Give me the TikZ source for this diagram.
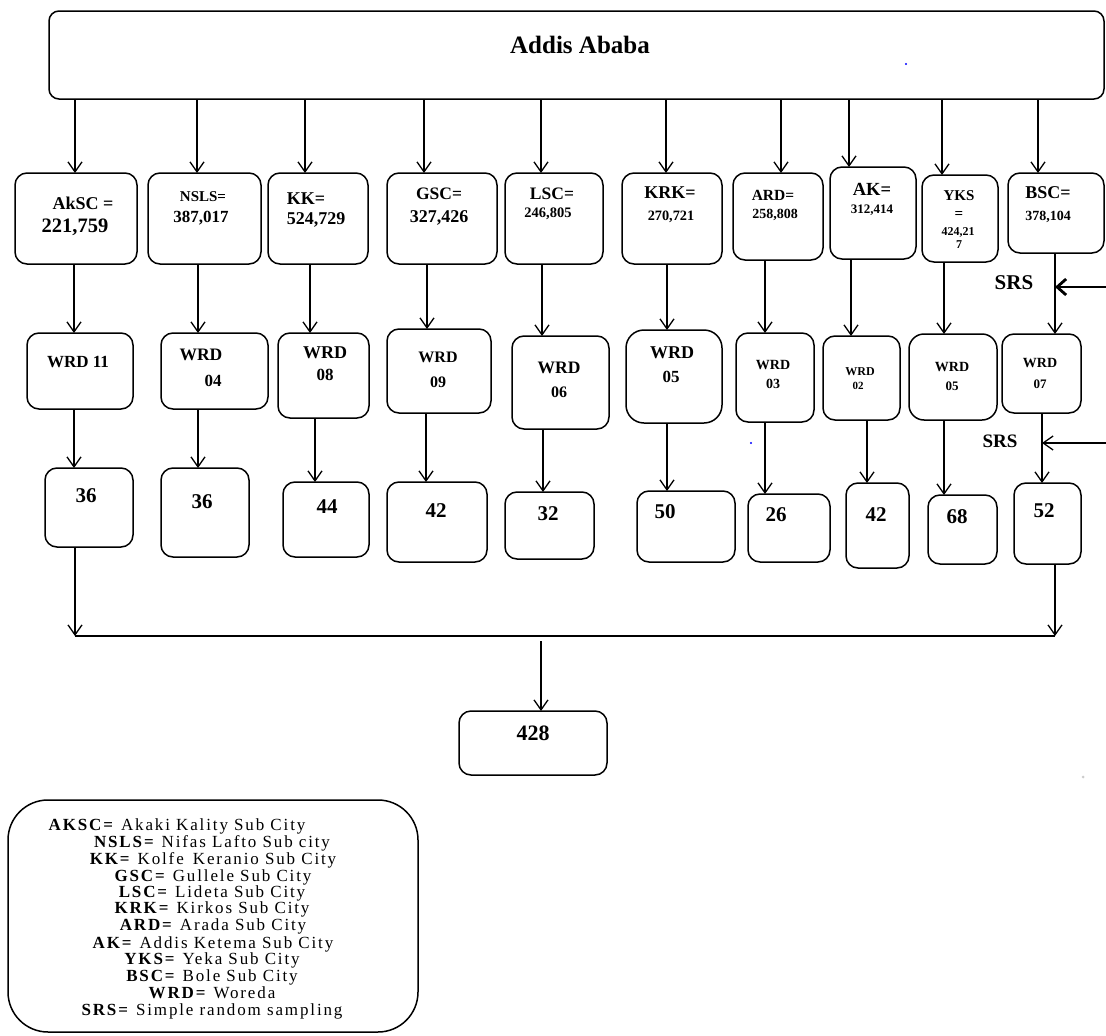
\documentclass[tikz,border=0pt]{standalone}
\usepackage{fontspec}
\setmainfont{Liberation Serif}
\newfontfamily\legfont[LetterSpace=11]{Liberation Serif}
\usetikzlibrary{arrows.meta}
\newcommand\myfs[1]{\fontsize{#1}{#1}\selectfont\bfseries}
\begin{document}
\begin{tikzpicture}[x=1pt,y=-1pt,
  box/.style={draw, line width=1.5pt, rounded corners=12pt, inner sep=0pt, outer sep=0pt},
  lbl/.style={inner sep=0pt, outer sep=0pt},
  arr/.style={line width=1.3pt, -{Straight Barb[length=10pt,width=14pt]}},
  thickarr/.style={line width=2.8pt, -{Straight Barb[length=9pt,width=16pt]}},
  ln/.style={line width=1.3pt},
  leg/.style={inner sep=0pt, font=\legfont\fontsize{17}{17}\selectfont}]
\useasboundingbox (0,0) rectangle (1106,1036);

% top box
\node[box, rounded corners=10pt, minimum width=1055pt, minimum height=88pt] (top) at (576.5,55) {};
\node[lbl] (ttop) at (580,45) {\myfs{25}Addis Ababa};

% row 1
\node[box, minimum width=122pt, minimum height=91pt] (a1) at (76,218.5) {};
\node[box, minimum width=113pt, minimum height=91pt] (a2) at (204.5,218.5) {};
\node[box, minimum width=100pt, minimum height=91pt] (a3) at (318,218.5) {};
\node[box, minimum width=110pt, minimum height=91pt] (a4) at (442,218.5) {};
\node[box, minimum width=98pt, minimum height=91pt] (a5) at (554,218.5) {};
\node[box, minimum width=100pt, minimum height=91pt] (a6) at (672,218.5) {};
\node[box, minimum width=90pt, minimum height=87pt] (a7) at (778,216.5) {};
\node[box, minimum width=86pt, minimum height=92pt] (a8) at (873,213) {};
\node[box, minimum width=76pt, minimum height=87pt] (a9) at (960,218.5) {};
\node[box, minimum width=96pt, minimum height=80pt] (a10) at (1056,213) {};

\node[lbl] (ta1) at (83,203) {\myfs{18}AkSC =};
\node[lbl] (tb1) at (75,227) {\myfs{20.5}221,759};
\node[lbl] (ta2) at (203,197) {\myfs{15}NSLS=};
\node[lbl] (tb2) at (201,218) {\myfs{17}387,017};
\node[lbl] (ta3) at (306,199) {\myfs{18}KK=};
\node[lbl] (tb3) at (316,220) {\myfs{18}524,729};
\node[lbl] (ta4) at (439,194) {\myfs{17.5}GSC=};
\node[lbl] (tb4) at (439,218) {\myfs{18}327,426};
\node[lbl] (ta5) at (552,194) {\myfs{17.5}LSC=};
\node[lbl] (tb5) at (548,214) {\myfs{14.5}246,805};
\node[lbl] (ta6) at (670,193) {\myfs{18}KRK=};
\node[lbl] (tb6) at (671,217) {\myfs{14.3}270,721};
\node[lbl] (ta7) at (773,195) {\myfs{15.5}ARD=};
\node[lbl] (tb7) at (775,215) {\myfs{14}258,808};
\node[lbl] (ta8) at (872,189) {\myfs{18.5}AK=};
\node[lbl] (tb8) at (872,210) {\myfs{13}312,414};
\node[lbl] (ta9) at (959,196) {\myfs{15}YKS};
\node[lbl] (tc9) at (959,215) {\myfs{15}=};
\node[lbl] (tb9) at (958,232) {\myfs{12}424,21};
\node[lbl] (td9) at (959,245) {\myfs{12}7};
\node[lbl] (ta10) at (1048,193) {\myfs{18}BSC=};
\node[lbl] (tb10) at (1048,217) {\myfs{14}378,104};

% row 2 (WRD)
\node[box, minimum width=106pt, minimum height=76pt] (w1) at (80,371) {};
\node[box, minimum width=107pt, minimum height=76pt] (w2) at (214.5,371) {};
\node[box, minimum width=91pt, minimum height=85pt] (w3) at (323.5,375.5) {};
\node[box, minimum width=104pt, minimum height=84pt] (w4) at (439,371) {};
\node[box, minimum width=97pt, minimum height=93pt] (w5) at (560.5,382.5) {};
\node[box, rounded corners=18pt, minimum width=96pt, minimum height=93pt] (w6) at (674,376.5) {};
\node[box, minimum width=78pt, minimum height=89pt] (w7) at (775,377.5) {};
\node[box, minimum width=77pt, minimum height=84pt] (w8) at (861.5,378) {};
\node[box, rounded corners=15pt, minimum width=88pt, minimum height=86pt] (w9) at (953,377) {};
\node[box, minimum width=79pt, minimum height=79pt] (w10) at (1041.5,373.5) {};

\node[lbl] (u1) at (78,362) {\myfs{17}WRD 11};
\node[lbl] (u2) at (201,355) {\myfs{17.5}WRD};
\node[lbl] (v2) at (213,381) {\myfs{17}04};
\node[lbl] (u3) at (325,353) {\myfs{18}WRD};
\node[lbl] (v3) at (325,375) {\myfs{17}08};
\node[lbl] (u4) at (438,357) {\myfs{16}WRD};
\node[lbl] (v4) at (438,382) {\myfs{16}09};
\node[lbl] (u5) at (559,368) {\myfs{17.5}WRD};
\node[lbl] (v5) at (559,392) {\myfs{16}06};
\node[lbl] (u6) at (672,353) {\myfs{18}WRD};
\node[lbl] (v6) at (671,377) {\myfs{17}05};
\node[lbl] (u7) at (773,365) {\myfs{14}WRD};
\node[lbl] (v7) at (773,384) {\myfs{14}03};
\node[lbl] (u8) at (860,372) {\myfs{12}WRD};
\node[lbl] (v8) at (858,386) {\myfs{11}02};
\node[lbl] (u9) at (952,367) {\myfs{14}WRD};
\node[lbl] (v9) at (952,386) {\myfs{13}05};
\node[lbl] (u10) at (1040,363) {\myfs{14}WRD};
\node[lbl] (v10) at (1040,384) {\myfs{13}07};

% row 3 (numbers)
\node[box, minimum width=88pt, minimum height=79pt] (n1) at (89,507.5) {};
\node[box, minimum width=88pt, minimum height=89pt] (n2) at (205,512.5) {};
\node[box, minimum width=86pt, minimum height=75pt] (n3) at (326,519.5) {};
\node[box, minimum width=100pt, minimum height=80pt] (n4) at (437,522) {};
\node[box, minimum width=89pt, minimum height=67pt] (n5) at (549.5,525.5) {};
\node[box, minimum width=98pt, minimum height=71pt] (n6) at (686,526.5) {};
\node[box, minimum width=82pt, minimum height=68pt] (n7) at (789,528) {};
\node[box, minimum width=63pt, minimum height=85pt] (n8) at (877.5,525.5) {};
\node[box, minimum width=69pt, minimum height=69pt] (n9) at (962.5,529.5) {};
\node[box, minimum width=67pt, minimum height=81pt] (n10) at (1047.5,523.5) {};

\node[lbl] (m1) at (86,496) {\myfs{21}36};
\node[lbl] (m2) at (202,502) {\myfs{21}36};
\node[lbl] (m3) at (327,507) {\myfs{21}44};
\node[lbl] (m4) at (436,511) {\myfs{21}42};
\node[lbl] (m5) at (548,514) {\myfs{21}32};
\node[lbl] (m6) at (665,512) {\myfs{21}50};
\node[lbl] (m7) at (776,515) {\myfs{21}26};
\node[lbl] (m8) at (876,515) {\myfs{21}42};
\node[lbl] (m9) at (957,517) {\myfs{21}68};
\node[lbl] (m10) at (1044,511) {\myfs{21}52};

% total
\node[box, minimum width=148pt, minimum height=64pt] (tot) at (533,743) {};
\node[lbl] (ttot) at (533,733) {\myfs{22}428};

% connectors top -> row 1
\foreach \xx/\t in {75/a1,197/a2,305/a3,424/a4,541/a5,666/a6,781/a7,849/a8,942/a9,1038/a10}{
  \coordinate (cx) at (\xx,0);
  \draw[arr] (top.south -| cx) -- (\t.north -| cx);
}
% row 1 -> row 2
\foreach \xx/\s/\t in {74/a1/w1,198/a2/w2,310/a3/w3,427/a4/w4,542/a5/w5,667/a6/w6,765/a7/w7,851/a8/w8,944/a9/w9,1055/a10/w10}{
  \coordinate (cx) at (\xx,0);
  \draw[arr] (\s.south -| cx) -- (\t.north -| cx);
}
% row 2 -> row 3
\foreach \xx/\s/\t in {74/w1/n1,198/w2/n2,315/w3/n3,426/w4/n4,543/w5/n5,667/w6/n6,765/w7/n7,867/w8/n8,944/w9/n9,1042/w10/n10}{
  \coordinate (cx) at (\xx,0);
  \draw[arr] (\s.south -| cx) -- (\t.north -| cx);
}

% SRS arrows
\coordinate (s1a) at (1106,287);
\coordinate (s1b) at (1055,287);
\draw[thickarr] (s1a) -- (s1b);
\node[lbl] (srs1) at (1014,283) {\myfs{21}SRS};
\coordinate (s2a) at (1106,443);
\coordinate (s2b) at (1042,443);
\draw[arr] (s2a) -- (s2b);
\node[lbl] (srs2) at (1000,441) {\myfs{19}SRS};

% join to total
\coordinate (jl) at (75,636);
\coordinate (jr) at (1055,636);
\coordinate (jm) at (541,641);
\coordinate (cl) at (75,0);
\coordinate (cr) at (1055,0);
\draw[arr] (n1.south -| cl) -- (jl);
\draw[arr] (n10.south -| cr) -- (jr);
\draw[ln] (jl) -- (jr);
\draw[arr] (jm) -- (tot.north -| jm);

% stray dots
\fill[blue] (906,64) circle (1.2);
\fill[blue] (751,443) circle (1.2);
\fill[gray!40] (1083,777) circle (1.5);

% legend
\node[box, rounded corners=40pt, minimum width=410pt, minimum height=232pt] (legend) at (213,916) {};
\node[leg] (l1) at (177,826) {\textbf{AKSC=} Akaki Kality Sub City};
\node[leg] (l2) at (212,843) {\textbf{NSLS=} Nifas Lafto Sub city};
\node[leg] (l3) at (213,860) {\textbf{KK=} Kolfe\hspace{3pt} Keranio Sub City};
\node[leg] (l4) at (213,877) {\textbf{GSC=} Gullele Sub City};
\node[leg] (l5) at (212,893) {\textbf{LSC=} Lideta Sub City};
\node[leg] (l6) at (212,909) {\textbf{KRK=} Kirkos Sub City};
\node[leg] (l7) at (213,926) {\textbf{ARD=} Arada Sub City};
\node[leg] (l8) at (213,944) {\textbf{AK=} Addis Ketema Sub City};
\node[leg] (l9) at (212,960) {\textbf{YKS=} Yeka Sub City};
\node[leg] (l10) at (212,977) {\textbf{BSC=} Bole Sub City};
\node[leg] (l11) at (212,993) {\textbf{WRD=} Woreda};
\node[leg] (l12) at (212,1011) {\textbf{SRS=} Simple random sampling};
\end{tikzpicture}
\end{document}
